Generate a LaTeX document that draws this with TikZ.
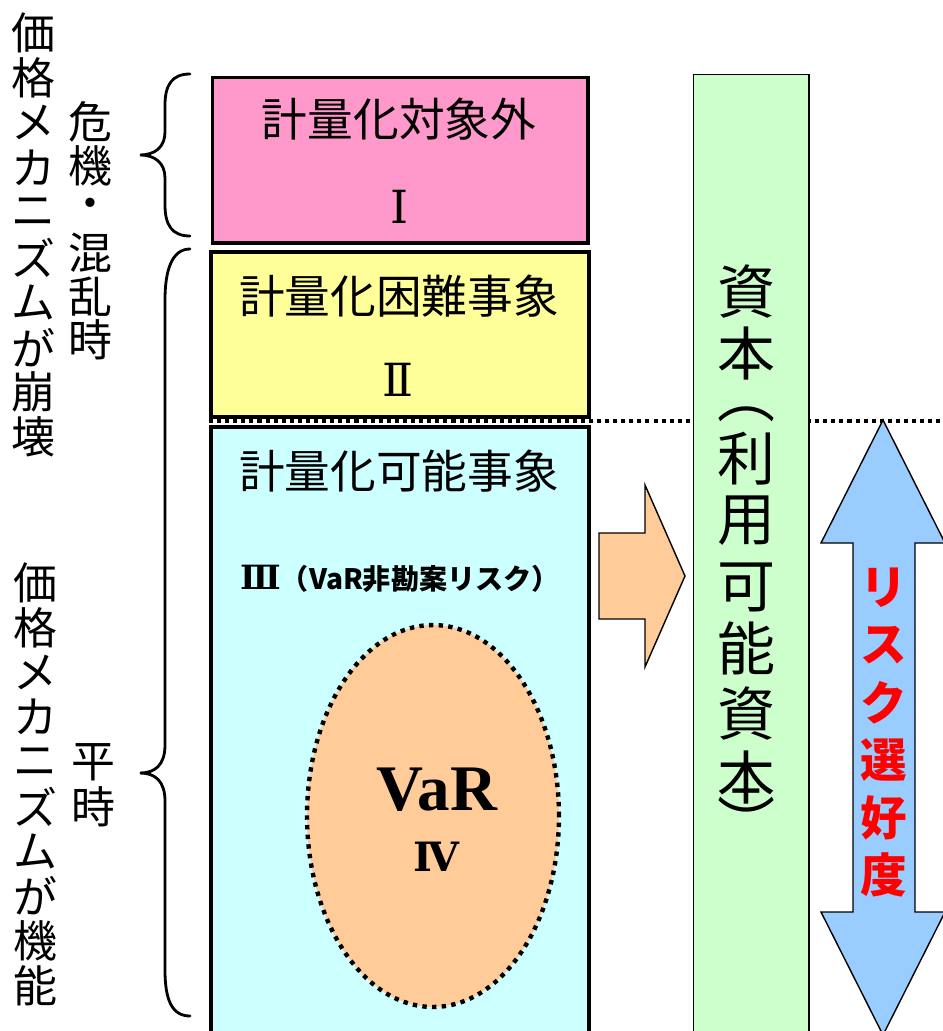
\documentclass[tikz,border=0pt]{standalone}
\usepackage{fontspec}
\setmainfont{Noto Sans CJK JP}
\newfontfamily\numfont{DejaVu Serif}
\newfontfamily\varfont{Liberation Serif}
\usetikzlibrary{shapes.geometric, positioning}
\definecolor{pinkfill}{HTML}{FF99CC}
\definecolor{yellowfill}{HTML}{FFFF99}
\definecolor{cyanfill}{HTML}{CCFFFF}
\definecolor{greenfill}{HTML}{CCFFCC}
\definecolor{orangefill}{HTML}{FFCC99}
\definecolor{bluefill}{HTML}{99CCFF}

\begin{document}
\begin{tikzpicture}[x=0.02cm, y=-0.02cm,
    region/.style={rectangle, draw=black, line width=2.2pt, anchor=north west, inner sep=0pt, minimum width=7.56cm},
    column/.style={rectangle, draw=black, line width=0.8pt, fill=greenfill, anchor=north west, inner sep=0pt},
    shapearrow/.style={draw=black, line width=0.8pt, line join=miter},
    threshold/.style={line width=2.2pt, dash pattern=on 2.3pt off 2.3pt},
    brace/.style={line width=1.6pt, line cap=round},
    vchar/.style={inner sep=0pt, font=\fontsize{25}{25}\selectfont},
    colchar/.style={inner sep=0pt, font=\fontsize{33}{33}\selectfont},
    appetite/.style={inner sep=0pt, text=red, font=\bfseries\fontsize{26.5}{26.5}\selectfont},
    title/.style={inner sep=0pt, font=\fontsize{26}{26}\selectfont},
    numeral/.style={inner sep=0pt, font=\numfont\fontsize{26}{26}\selectfont},
]
\useasboundingbox (0,0) rectangle (943,1031);
\clip (0,0) rectangle (943,1031);

% Risk regions
\node[region, fill=pinkfill, minimum width=7.52cm, minimum height=3.32cm] (outside) at (210.5,75.5) {};
\node[region, fill=yellowfill, minimum height=3.3cm] (hard) at (209,250) {};
\node[region, fill=cyanfill, minimum height=12.4cm] (measurable) at (209,425) {};

% Normal / crisis boundary
\draw[threshold] (209,421) -- (943,421);

% Capital column
\node[column, minimum width=2.32cm, minimum height=19.5cm] (capital) at (692.5,73.5) {};

% Arrows
\draw[shapearrow, fill=orangefill] (599,533) -- (645,533) -- (645,485) -- (685,576)
    -- (645,667) -- (645,619) -- (599,619) -- cycle;
\draw[shapearrow, fill=bluefill] (883,420) -- (945,543) -- (915,543) -- (915,912) -- (945,912)
    -- (883,1035) -- (821,912) -- (853,912) -- (853,543) -- (821,543) -- cycle;

% VaR ellipse
\node[ellipse, draw=black, fill=orangefill, line width=2.5pt, dash pattern=on 2.5pt off 3pt,
    minimum width=5.04cm, minimum height=7.64cm, inner sep=0pt] (varzone) at (433,816) {};

% Region labels
\node[title] (outside-label) at (399,119) {計量化対象外};
\node[numeral] (outside-num) at (400,207) {Ⅰ};
\node[title] (hard-label) at (399,296) {計量化困難事象};
\node[numeral] (hard-num) at (398,380) {Ⅱ};
\node[title] (measurable-label) at (399,471) {計量化可能事象};
\node[inner sep=0pt] (measurable-num) at (400,579)
    {{\numfont\bfseries\fontsize{19}{19}\selectfont Ⅲ}{\bfseries\fontsize{16}{16}\selectfont （VaR非勘案リスク）}};
\node[inner sep=0pt, font=\varfont\bfseries\fontsize{37}{37}\selectfont] (var-label) at (437,790) {VaR};
\node[numeral, font=\numfont\bfseries\fontsize{23}{23}\selectfont] (var-num) at (436,857) {Ⅳ};

% Vertical labels
\foreach \ch [count=\i from 0] in {価,格,メ,カ,ニ,ズ,ム,が,崩,壊}
    \node[vchar] (crash-\i) at (33, 33+44.9*\i) {\ch};
\foreach \ch [count=\i from 0] in {危,機,・,混,乱,時}
    \node[vchar] (crisis-\i) at (90, 122+43.6*\i) {\ch};
\foreach \ch [count=\i from 0] in {価,格,メ,カ,ニ,ズ,ム,が,機,能}
    \node[vchar] (work-\i) at (35, 583+44.7*\i) {\ch};
\foreach \ch [count=\i from 0] in {平,時}
    \node[vchar] (normal-\i) at (93, 762+45*\i) {\ch};
\foreach \ch/\y [count=\i] in {資/292, 本/353, ︵/414, 利/459, 用/521, 可/587,
        能/648, 資/714, 本/777, ︶/821}
    \node[colchar] (capital-\i) at (746,\y) {\ch};
\foreach \ch [count=\i from 0] in {リ,ス,ク,選,好,度}
    \node[appetite] (appetite-\i) at (884, 588+57.4*\i) {\ch};

% Braces
\draw[brace] (190,74) .. controls (172,74) and (165,85) .. (165,105) -- (165,132)
    .. controls (165,147) and (155,155) .. (140,155) .. controls (155,155) and (165,163) .. (165,178)
    -- (165,205) .. controls (165,225) and (172,236) .. (190,236);
\draw[brace] (190,249) .. controls (172,249) and (165,270) .. (165,300) -- (165,745)
    .. controls (165,765) and (155,773) .. (140,773) .. controls (155,773) and (165,781) .. (165,801)
    -- (165,970) .. controls (165,1000) and (172,1016) .. (190,1016);

\end{tikzpicture}
\end{document}
